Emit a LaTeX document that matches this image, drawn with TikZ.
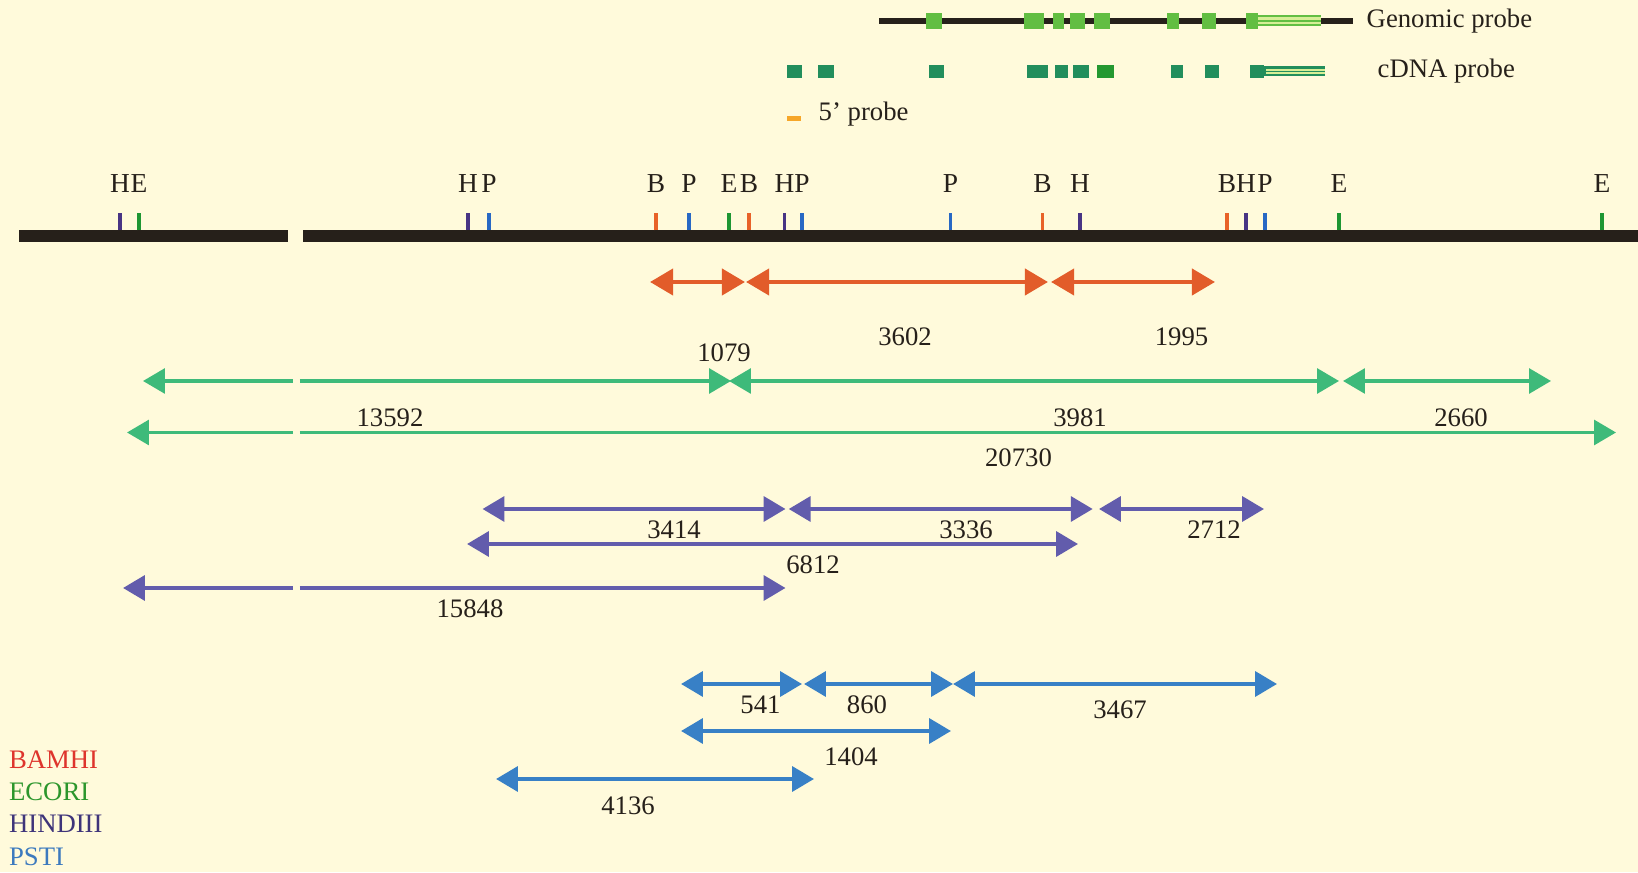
\documentclass[tikz,border=0pt]{standalone}
\usepackage{fontspec}
\setmainfont{Liberation Serif}
\usepackage{tikz}
\usetikzlibrary{arrows.meta,positioning}
\usepackage{xcolor}
\definecolor{paper}{RGB}{255,250,219}
\definecolor{inkdark}{RGB}{38,32,26}
\definecolor{bamred}{RGB}{226,92,42}
\definecolor{ecogreen}{RGB}{62,186,122}
\definecolor{hindpurple}{RGB}{98,92,172}
\definecolor{pstblue}{RGB}{56,128,198}
\definecolor{bamtick}{RGB}{232,98,40}
\definecolor{ecotick}{RGB}{30,150,50}
\definecolor{hindtick}{RGB}{72,52,132}
\definecolor{psttick}{RGB}{40,104,196}
\definecolor{exonlight}{RGB}{98,190,66}
\definecolor{exondark}{RGB}{34,142,92}
\definecolor{exonmid}{RGB}{36,152,48}
\definecolor{exonpale}{RGB}{214,238,150}
\definecolor{probeorange}{RGB}{246,166,40}
\definecolor{keyred}{RGB}{222,52,44}
\definecolor{keygreen}{RGB}{44,150,44}
\definecolor{keypurple}{RGB}{62,52,122}
\definecolor{keyblue}{RGB}{60,122,190}

\begin{document}
\begin{tikzpicture}[
  >={Triangle[length=6.2pt,width=7pt]},
  site/.style={font=\fontsize{7.8}{9}\selectfont, inkdark, inner sep=0pt},
  len/.style={font=\fontsize{7.6}{9}\selectfont, inkdark, inner sep=0pt},
  key/.style={font=\fontsize{7.6}{9}\selectfont, anchor=west, inner sep=0pt},
  bamarc/.style={bamred, line width=1.3pt, >={Triangle[length=6.6pt,width=7.4pt]}},
  ecoarc/.style={ecogreen, line width=1pt},
  hindarc/.style={hindpurple, line width=1.2pt},
  pstarc/.style={pstblue, line width=1.2pt},
]
  \useasboundingbox (0,0) rectangle (16.38,8.72);
  \fill[paper] (0,0) rectangle (16.38,8.72);

  % probes
  \draw[inkdark, line width=1.6pt] (8.79,8.51) -- (13.53,8.51);
  \foreach \a/\b in {9.26/9.42, 10.24/10.44, 10.53/10.64, 10.70/10.85,
                     10.94/11.10, 11.67/11.79, 12.02/12.16, 12.46/12.58}{
    \fill[exonlight] (\a,8.43) rectangle (\b,8.59);
  }
  \fill[exonlight] (12.58,8.455) rectangle (13.21,8.565);
  \fill[exonpale] (12.58,8.475) rectangle (13.21,8.545);
  \draw[exonlight, line width=0.3pt] (12.58,8.51) -- (13.21,8.51);
  \node[len, anchor=west] (gprobe) at (13.66,8.51) {Genomic probe};

  \foreach \a/\b in {7.87/8.02, 8.18/8.34, 9.29/9.44, 10.27/10.48, 10.55/10.68,
                     10.73/10.885, 11.71/11.825, 12.045/12.19, 12.495/12.64}{
    \fill[exondark] (\a,7.94) rectangle (\b,8.07);
  }
  \fill[exonmid] (10.97,7.94) rectangle (11.135,8.07);
  \fill[exondark] (12.64,7.955) rectangle (13.25,8.055);
  \draw[exonpale, line width=0.35pt] (12.66,7.99) -- (13.25,7.99)
                                    (12.66,8.02) -- (13.25,8.02);
  \node[len, anchor=west] (cprobe) at (13.77,8.01) {cDNA probe};

  \fill[probeorange] (7.87,7.505) rectangle (8.01,7.555);
  \node[len, anchor=west] (fprobe) at (8.18,7.58) {5’ probe};

  % restriction map
  \fill[inkdark] (0.19,6.30) rectangle (2.88,6.415);
  \fill[inkdark] (3.03,6.30) rectangle (16.38,6.415);
  \foreach \x/\l/\c [count=\i] in {1.20/H/hindtick, 1.39/E/ecotick, 4.68/H/hindtick,
      4.89/P/psttick, 6.56/B/bamtick, 6.89/P/psttick, 7.29/E/ecotick, 7.49/B/bamtick,
      7.845/H/hindtick, 8.02/P/psttick, 9.505/P/psttick, 10.425/B/bamtick,
      10.80/H/hindtick, 12.27/B/bamtick, 12.46/H/hindtick, 12.65/P/psttick,
      13.39/E/ecotick, 16.02/E/ecotick}{
    \draw[\c, line width=0.9pt] (\x,6.415) -- (\x,6.59);
    \node[site] (s\i) at (\x,6.88) {\l};
  }

  % fragments
  \coordinate (cutL) at (2.925,0);
  \coordinate (cutR) at (2.998,0);
  \foreach \n/\a/\b/\y/\s in {b1/6.50/7.45/5.90/bamarc, b2/7.46/10.48/5.90/bamarc,
      b3/10.51/12.15/5.90/bamarc,
      g2/7.29/13.39/4.91/ecoarc, g3/13.43/15.51/4.91/ecoarc,
      h1/4.825/7.855/3.63/hindarc, h2/7.887/10.927/3.63/hindarc,
      h3/10.99/12.64/3.63/hindarc, h4/4.67/10.78/3.28/hindarc,
      p1/6.81/8.02/1.88/pstarc, p2/8.04/9.53/1.88/pstarc, p3/9.53/12.77/1.88/pstarc,
      p4/6.81/9.51/1.41/pstarc, p5/4.96/8.14/0.93/pstarc}{
    \coordinate (\n L) at (\a,\y);
    \coordinate (\n R) at (\b,\y);
    \draw[\s, <->] (\n L) -- (\n R);
  }
  \foreach \n/\a/\b/\y/\s in {g1/1.43/7.31/4.91/ecoarc, g4/1.27/16.16/4.395/ecoarc,
      h5/1.23/7.855/2.84/hindarc}{
    \coordinate (\n L) at (\a,\y);
    \coordinate (\n R) at (\b,\y);
    \draw[\s, <-] (\n L) -- (cutL |- \n L);
    \draw[\s, ->] (cutR |- \n L) -- (\n R);
  }

  \node[len] (l3602) at (9.05,5.35) {3602};
  \node[len] (l1995) at (11.815,5.35) {1995};
  \node[len] (l1079) at (7.24,5.19) {1079};
  \node[len] (l13592) at (3.90,4.54) {13592};
  \node[len] (l3981) at (10.80,4.54) {3981};
  \node[len] (l2660) at (14.61,4.54) {2660};
  \node[len] (l20730) at (10.185,4.145) {20730};
  \node[len] (l3414) at (6.74,3.42) {3414};
  \node[len] (l3336) at (9.66,3.42) {3336};
  \node[len] (l2712) at (12.14,3.42) {2712};
  \node[len] (l6812) at (8.13,3.07) {6812};
  \node[len] (l15848) at (4.70,2.63) {15848};
  \node[len] (l541) at (7.605,1.67) {541};
  \node[len] (l860) at (8.67,1.67) {860};
  \node[len] (l3467) at (11.20,1.627) {3467};
  \node[len] (l1404) at (8.51,1.157) {1404};
  \node[len] (l4136) at (6.28,0.666) {4136};

  % key
  \node[key, keyred] (kbam) at (0.084,1.126) {BAMHI};
  \node[key, keygreen] (keco) at (0.084,0.802) {ECORI};
  \node[key, keypurple] (khind) at (0.084,0.478) {HINDIII};
  \node[key, keyblue] (kpst) at (0.084,0.154) {PSTI};
\end{tikzpicture}
\end{document}
